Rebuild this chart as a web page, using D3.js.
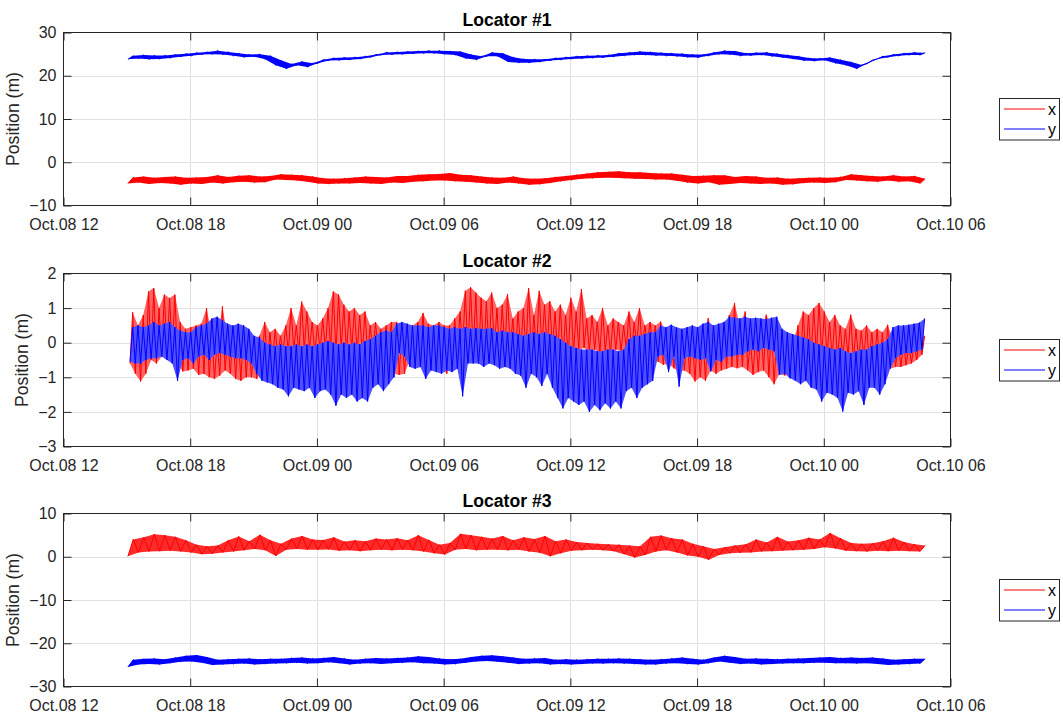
<!DOCTYPE html>
<html><head><meta charset="utf-8">
<script src="https://cdn.jsdelivr.net/npm/d3@7"></script>
<style>
body{margin:0;background:#fff;}
svg{display:block;}
text{font-family:"Liberation Sans",Arial,Helvetica,sans-serif;}
</style>
</head><body>
<svg id="chart" width="1063" height="715"></svg>
<script>
// ---- time axis (hours after Oct.08 12:00) ----
const timeTickHours = [0, 6, 12, 18, 24, 30, 36, 42];
const timeTickLabels = ["Oct.08 12","Oct.08 18","Oct.09 00","Oct.09 06","Oct.09 12","Oct.09 18","Oct.10 00","Oct.10 06"];
const seriesNames = ["x", "y"];
const panelTitles = ["Locator #1", "Locator #2", "Locator #3"];
const loc1YTicks = [-10, 0, 10, 20, 30];
const loc2YTicks = [-3, -2, -1, 0, 1, 2];
const loc3YTicks = [-30, -20, -10, 0, 10];

// sampling of the read-off envelopes (start hour, step in hours)
const loc1Start = 3.05, loc1Step = 0.5;
const loc2Start = 3.15, loc2Step = 0.25;
const loc3Start = 3.05, loc3Step = 0.5;

// ---- Locator #1 (low / high readings per sample) ----
const loc1XLow = [-4.9,-4.7,-5.0,-4.8,-4.9,-5.2,-4.9,-5.0,-4.7,-4.9,
 -4.6,-4.5,-4.7,-4.6,-4.0,-4.1,-4.2,-4.5,-4.9,-5.0,
 -4.9,-4.9,-4.8,-4.9,-5.0,-4.7,-4.8,-4.5,-4.4,-4.2,
 -4.2,-4.4,-4.5,-4.7,-4.9,-5.0,-4.7,-4.9,-5.2,-5.1,
 -4.8,-4.4,-4.1,-3.8,-3.7,-3.6,-3.6,-3.7,-3.8,-3.9,
 -4.0,-4.0,-4.3,-4.7,-4.9,-4.6,-5.2,-5.0,-4.8,-4.9,
 -5.0,-4.9,-5.2,-5.1,-4.8,-4.7,-4.8,-4.6,-4.1,-4.2,
 -4.4,-4.5,-4.2,-4.5,-4.4,-4.9];
const loc1XHigh = [-3.5,-3.3,-3.6,-3.4,-3.3,-3.6,-3.5,-3.4,-3.0,-3.4,
 -3.1,-3.0,-3.3,-3.2,-2.8,-2.9,-3.0,-3.3,-3.7,-3.8,
 -3.7,-3.5,-3.3,-3.4,-3.5,-3.2,-3.2,-2.9,-2.8,-2.7,
 -2.5,-2.9,-3.0,-3.3,-3.5,-3.6,-3.3,-3.7,-3.8,-3.7,
 -3.4,-3.2,-2.9,-2.6,-2.3,-2.2,-2.1,-2.3,-2.3,-2.5,
 -2.6,-2.6,-2.9,-3.2,-3.1,-3.0,-3.0,-3.4,-3.2,-3.3,
 -3.6,-3.5,-3.8,-3.7,-3.6,-3.5,-3.6,-3.4,-2.8,-3.0,
 -3.2,-3.3,-3.0,-3.3,-3.2,-3.8];
const loc1YLow = [23.8,24.0,23.8,23.9,24.1,24.4,24.6,24.9,25.0,24.9,
 24.6,24.3,24.4,23.8,22.4,21.6,22.4,22.0,22.9,23.5,
 23.6,23.7,23.9,24.3,24.8,24.9,25.0,25.1,25.2,25.2,
 25.0,24.8,24.0,23.7,24.5,24.5,23.2,23.0,23.0,23.2,
 23.5,23.7,23.9,24.0,24.1,24.2,24.4,24.6,24.8,24.8,
 24.7,24.6,24.5,24.3,24.2,24.6,25.0,24.9,24.6,24.7,
 24.8,24.5,24.2,23.9,23.5,23.4,23.6,22.9,22.4,21.6,
 22.8,23.9,24.3,24.6,24.8,24.8];
const loc1YHigh = [24.6,24.8,24.7,24.7,24.9,25.1,25.3,25.5,25.8,25.5,
 25.2,24.9,25.0,24.6,23.6,22.7,23.3,22.9,23.7,24.1,
 24.2,24.3,24.5,24.9,25.4,25.5,25.6,25.7,25.8,25.8,
 25.7,25.6,24.9,24.5,25.4,25.2,24.3,23.9,23.8,23.8,
 24.1,24.3,24.5,24.6,24.7,24.8,25.2,25.4,25.6,25.5,
 25.3,25.2,25.1,24.9,24.9,25.4,25.8,25.7,25.2,25.3,
 25.4,25.1,24.8,24.5,24.1,24.0,24.2,23.7,23.2,22.5,
 23.6,24.5,24.9,25.2,25.4,25.3];

// ---- Locator #2 ----
const loc2XLow = [-0.6,-0.9,-1.12,-0.9,-0.5,-0.6,-0.4,-0.3,-0.2,-0.6,
 -0.83,-0.8,-0.75,-0.93,-0.9,-1.0,-1.05,-0.95,-0.8,-0.9,
 -1.05,-1.1,-1.0,-1.0,-1.05,-0.8,-0.6,-0.5,-0.4,-0.3,
 -0.3,-0.2,-0.3,-0.2,-0.2,-0.3,-0.25,-0.2,-0.2,-0.3,
 -0.2,-0.3,-0.2,-0.3,-0.3,-0.35,-0.3,-0.35,-0.3,-0.2,
 -0.9,-0.93,-0.9,-0.5,-0.4,-0.4,-0.45,-0.5,-0.6,-0.7,
 -0.9,-0.5,-0.3,-0.2,-0.3,-0.3,-0.6,-0.4,-0.3,-0.2,
 -0.3,-0.25,-0.2,-0.3,-0.25,-0.3,-0.3,-0.3,-0.2,-0.2,
 -0.2,-0.35,-0.5,-0.45,-0.3,-0.2,-0.15,-0.25,-0.2,-0.3,
 -0.25,-0.3,-0.2,-0.25,-0.2,-0.3,-0.1,-0.2,0.0,-0.1,
 -0.55,-0.64,-0.6,-0.74,-0.83,-0.8,-0.9,-1.12,-1.0,-1.1,
 -0.8,-0.9,-0.8,-0.75,-0.7,-0.74,-0.7,-0.8,-0.93,-0.85,
 -0.8,-1.0,-1.2,-0.9,-0.95,-0.9,-0.74,-0.7,-0.5,-0.4,
 -0.35,-0.4,-0.4,-0.45,-0.5,-0.45,-0.4,-0.5,-0.5,-0.45,
 -0.5,-0.55,-0.65,-0.8,-0.75,-0.7,-0.7,-0.65,-0.6,-0.5,
 -0.35];
const loc2XHigh = [0.88,0.5,0.8,1.48,1.58,1.0,1.39,1.29,1.39,0.6,
 0.4,0.45,0.5,0.55,1.0,0.2,0.05,1.05,0.1,0.3,
 0.2,0.5,0.1,0.0,0.2,0.6,0.3,0.4,0.2,0.5,
 1.0,0.5,1.19,0.9,0.6,0.5,0.7,1.0,1.48,1.39,
 1.1,0.9,1.0,0.8,0.9,0.5,0.6,0.4,0.5,0.6,
 0.6,0.4,0.5,0.5,0.6,0.86,0.55,0.5,0.6,0.5,
 0.5,0.7,0.9,1.5,1.6,1.45,1.3,1.2,1.45,1.0,
 1.1,1.4,0.7,0.9,1.0,1.58,0.8,1.5,1.1,1.2,
 0.9,1.1,0.8,1.3,0.9,1.55,0.7,0.8,0.6,1.0,
 0.5,0.7,0.6,0.5,0.9,0.6,1.0,0.5,0.6,0.5,
 0.61,0.3,0.4,0.2,0.25,0.2,0.3,0.3,0.2,0.71,
 0.3,0.2,0.3,0.8,1.15,0.5,0.9,0.1,0.2,0.4,
 0.81,0.5,0.3,0.0,0.1,0.0,0.5,0.9,0.8,1.0,
 1.15,0.9,0.6,0.8,0.5,0.4,0.81,0.4,0.35,0.5,
 0.3,0.4,0.3,0.52,0.1,0.0,0.0,-0.05,0.0,0.1,
 0.2];
const loc2YLow = [-0.55,-0.6,-0.6,-0.5,-0.45,-0.45,-0.4,-0.5,-0.6,-1.1,
 -0.5,-0.45,-0.6,-0.4,-0.35,-0.5,-0.35,-0.3,-0.35,-0.4,
 -0.45,-0.45,-0.5,-0.6,-0.9,-1.1,-1.15,-1.2,-1.3,-1.35,
 -1.55,-1.3,-1.35,-1.4,-1.3,-1.6,-1.4,-1.35,-1.5,-1.82,
 -1.5,-1.6,-1.5,-1.7,-1.6,-1.7,-1.3,-1.2,-1.4,-1.2,
 -1.0,-0.3,-0.4,-0.7,-0.75,-0.7,-1.05,-0.8,-0.85,-0.9,
 -0.8,-0.85,-0.75,-1.55,-0.6,-0.6,-0.6,-0.7,-0.6,-0.65,
 -0.75,-0.7,-0.75,-0.9,-0.95,-1.3,-0.9,-1.0,-1.25,-0.9,
 -1.3,-1.6,-1.9,-1.6,-1.7,-1.8,-1.7,-2.0,-1.8,-1.95,
 -1.75,-1.9,-1.7,-1.9,-1.4,-1.3,-1.6,-1.3,-1.2,-1.1,
 -0.4,-0.35,-0.85,-0.4,-1.27,-0.45,-0.4,-0.45,-0.5,-0.45,
 -0.83,-0.5,-0.55,-0.4,-0.4,-0.35,-0.35,-0.25,-0.2,-0.25,
 -0.15,-0.2,-0.25,-0.93,-0.9,-1.03,-1.1,-1.2,-1.1,-1.3,
 -1.35,-1.7,-1.45,-1.5,-1.6,-1.99,-1.45,-1.5,-1.4,-1.8,
 -1.3,-1.3,-1.5,-1.2,-0.74,-0.45,-0.35,-0.3,-0.3,-0.25,
 -0.2];
const loc2YHigh = [0.45,0.5,0.45,0.5,0.6,0.5,0.55,0.6,0.45,0.35,
 0.3,0.3,0.45,0.5,0.55,0.7,0.75,0.65,0.55,0.5,
 0.55,0.5,0.4,0.2,0.15,0.0,-0.05,-0.1,-0.05,-0.1,
 -0.1,-0.05,-0.1,-0.05,-0.1,-0.05,0.0,0.05,0.0,-0.05,
 0.0,-0.05,0.0,-0.05,0.05,0.1,0.2,0.3,0.35,0.3,
 0.55,0.6,0.55,0.5,0.5,0.5,0.45,0.5,0.5,0.45,
 0.4,0.45,0.4,0.45,0.4,0.42,0.4,0.4,0.42,0.3,
 0.35,0.3,0.3,0.25,0.2,0.25,0.3,0.25,0.3,0.25,
 0.2,0.1,0.0,-0.1,-0.15,-0.2,-0.2,-0.2,-0.25,-0.25,
 -0.2,-0.2,-0.25,-0.2,0.1,0.2,0.2,0.25,0.3,0.3,
 0.5,0.45,0.52,0.45,0.4,0.45,0.5,0.45,0.55,0.6,
 0.5,0.55,0.6,0.75,0.72,0.7,0.75,0.7,0.72,0.7,
 0.68,0.72,0.75,0.4,0.3,0.25,0.2,0.15,0.1,0.0,
 -0.05,-0.1,-0.15,-0.2,-0.15,-0.25,-0.3,-0.25,-0.2,-0.2,
 -0.1,-0.05,0.0,0.1,0.45,0.5,0.5,0.52,0.55,0.58,
 0.7];

// ---- Locator #3 ----
const loc3XLow = [0.1,1.0,1.2,1.3,1.4,1.2,1.0,0.6,0.7,1.0,
 1.2,1.5,1.8,1.5,0.2,1.6,1.8,1.6,1.6,1.7,
 1.4,1.5,1.3,1.5,1.6,1.5,1.6,1.5,1.2,0.8,
 0.5,1.6,1.8,1.5,1.6,1.6,1.5,1.6,1.2,0.9,
 0.1,0.8,1.4,1.5,1.6,1.5,1.3,0.6,-0.2,0.4,
 1.2,1.5,1.0,0.3,0.0,-0.7,0.4,0.8,0.9,1.0,
 1.2,1.3,1.4,1.5,1.6,1.8,2.2,1.9,1.4,1.3,
 1.2,1.4,1.3,1.4,1.3,1.2];
const loc3XHigh = [4.0,4.5,5.2,5.0,4.6,3.8,2.8,2.4,2.6,3.8,
 4.7,3.6,5.1,3.8,3.0,4.2,4.8,4.0,3.9,4.5,
 3.5,3.8,3.6,4.2,4.0,4.3,3.8,5.0,3.9,2.8,
 3.2,5.3,5.0,4.6,4.2,4.8,3.8,4.5,4.1,4.8,
 3.6,4.0,3.4,3.2,3.0,2.9,2.8,2.6,2.4,4.6,
 4.9,4.3,4.0,3.0,2.4,1.8,2.2,2.6,2.9,4.0,
 3.3,4.6,3.5,3.8,4.4,4.0,5.5,4.3,3.2,3.0,
 3.1,3.6,4.4,3.4,2.9,2.6];
const loc3YLow = [-25.5,-24.9,-24.8,-24.9,-24.6,-24.3,-24.2,-24.5,-25.0,-24.9,
 -24.8,-24.7,-24.9,-24.8,-24.7,-24.6,-24.5,-24.7,-24.6,-24.4,
 -24.6,-24.9,-24.7,-24.6,-24.8,-24.6,-24.5,-24.4,-24.6,-24.7,
 -24.9,-24.8,-24.5,-24.2,-24.1,-24.3,-24.5,-24.8,-24.7,-24.6,
 -24.9,-24.8,-24.9,-24.8,-24.7,-24.7,-24.6,-24.7,-24.8,-24.9,
 -24.9,-24.7,-24.6,-24.8,-24.9,-24.6,-24.2,-24.5,-24.8,-24.7,
 -24.9,-24.8,-24.7,-24.6,-24.6,-24.5,-24.5,-24.6,-24.6,-24.7,
 -24.6,-24.8,-25.0,-24.9,-24.8,-24.7];
const loc3YHigh = [-23.8,-23.6,-23.5,-23.7,-23.3,-22.9,-22.7,-23.2,-23.8,-23.7,
 -23.6,-23.5,-23.7,-23.6,-23.6,-23.4,-23.3,-23.5,-23.4,-23.2,
 -23.5,-23.8,-23.6,-23.4,-23.5,-23.4,-23.3,-23.0,-23.2,-23.5,
 -23.7,-23.6,-23.2,-22.9,-22.8,-23.0,-23.3,-23.6,-23.5,-23.4,
 -23.8,-23.7,-23.8,-23.7,-23.6,-23.6,-23.5,-23.6,-23.7,-23.8,
 -23.7,-23.5,-23.3,-23.6,-23.8,-23.3,-22.9,-23.2,-23.6,-23.5,
 -23.6,-23.7,-23.6,-23.5,-23.4,-23.3,-23.2,-23.4,-23.3,-23.4,
 -23.3,-23.5,-23.8,-23.7,-23.6,-23.6];

// ---- layout ----
const svg = d3.select("#chart");
const X0 = 63.5, X1 = 950.5;
const x = d3.scaleLinear().domain([0, 42]).range([X0, X1]);
const colors = ["#ff0000", "#0000ff"];
const axisColor = "#262626";
const panels = [
  {title: panelTitles[0], top: 32.5, bottom: 205.5, domain: [-10, 30], ticks: loc1YTicks, start: loc1Start, step: loc1Step,
   fills: ["#ff0000", "#0000ff"], series: [[loc1XLow, loc1XHigh], [loc1YLow, loc1YHigh]]},
  {title: panelTitles[1], top: 273.5, bottom: 446.5, domain: [-3, 2], ticks: loc2YTicks, start: loc2Start, step: loc2Step,
   fills: ["#ff6464", "#5050ff"], series: [[loc2XLow, loc2XHigh], [loc2YLow, loc2YHigh]]},
  {title: panelTitles[2], top: 513.5, bottom: 686.5, domain: [-30, 10], ticks: loc3YTicks, start: loc3Start, step: loc3Step,
   fills: ["#ff2a2a", "#0000ff"], series: [[loc3XLow, loc3XHigh], [loc3YLow, loc3YHigh]]}
];
const defs = svg.append("defs");

panels.forEach((p, pi) => {
  const y = d3.scaleLinear().domain(p.domain).range([p.bottom, p.top]);
  const g = svg.append("g");
  const cid = "clip" + pi;
  defs.append("clipPath").attr("id", cid).append("rect")
    .attr("x", X0).attr("y", p.top).attr("width", X1 - X0).attr("height", p.bottom - p.top);

  g.append("rect").attr("x", X0).attr("y", p.top).attr("width", X1 - X0).attr("height", p.bottom - p.top).attr("fill", "#fff");

  // grid
  g.append("g").selectAll("line").data(timeTickHours.slice(1, -1)).enter().append("line")
    .attr("x1", d => Math.round(x(d)) + 0.5).attr("x2", d => Math.round(x(d)) + 0.5)
    .attr("y1", p.top).attr("y2", p.bottom).attr("stroke", "#e1e1e1").attr("stroke-width", 1);
  g.append("g").selectAll("line").data(p.ticks.slice(1, -1)).enter().append("line")
    .attr("y1", d => Math.round(y(d)) + 0.5).attr("y2", d => Math.round(y(d)) + 0.5)
    .attr("x1", X0).attr("x2", X1).attr("stroke", "#e1e1e1").attr("stroke-width", 1);

  // series: envelope + zigzag trace through the readings
  const line = d3.line().x(d => x(d[0])).y(d => y(d[1]));
  p.series.forEach((pair, si) => {
    const [lo, hi] = pair;
    const pts = [], hiPts = [], loPts = [];
    lo.forEach((v, i) => {
      const t = p.start + i * p.step;
      pts.push([t, v]);
      pts.push([t + p.step / 2, hi[i]]);
      loPts.push([t, v]);
      hiPts.push([t + p.step / 2, hi[i]]);
    });
    const poly = hiPts.concat(loPts.slice().reverse());
    g.append("path").attr("clip-path", `url(#${cid})`).attr("d", line(poly) + "Z")
      .attr("fill", p.fills[si]).attr("stroke", "none");
    g.append("path").attr("clip-path", `url(#${cid})`).attr("d", line(pts))
      .attr("fill", "none").attr("stroke", colors[si]).attr("stroke-width", 1).attr("stroke-linejoin", "round");
  });

  // axes
  const xb = d3.axisBottom(x).tickValues(timeTickHours).tickFormat((d, i) => timeTickLabels[i]).tickSizeInner(-8).tickSizeOuter(0).tickPadding(13);
  const xt = d3.axisTop(x).tickValues(timeTickHours).tickFormat("").tickSizeInner(-8).tickSizeOuter(0);
  const yl = d3.axisLeft(y).tickValues(p.ticks).tickFormat(d3.format("d")).tickSizeInner(-8).tickSizeOuter(0).tickPadding(7);
  const yr = d3.axisRight(y).tickValues(p.ticks).tickFormat("").tickSizeInner(-8).tickSizeOuter(0);
  const ax = [
    g.append("g").attr("transform", `translate(0,${p.bottom})`).call(xb),
    g.append("g").attr("transform", `translate(0,${p.top})`).call(xt),
    g.append("g").attr("transform", `translate(${X0},0)`).call(yl),
    g.append("g").attr("transform", `translate(${X1},0)`).call(yr)
  ];
  ax.forEach(a => {
    a.select(".domain").remove();
    a.selectAll(".tick line").attr("stroke", axisColor);
    a.selectAll(".tick text").attr("fill", axisColor).style("font-size", "16px")
      .style("font-family", "'Liberation Sans', Arial, sans-serif");
  });
  g.append("rect").attr("x", X0).attr("y", p.top).attr("width", X1 - X0).attr("height", p.bottom - p.top)
    .attr("fill", "none").attr("stroke", axisColor).attr("stroke-width", 1);

  // title
  g.append("text").attr("x", (X0 + X1) / 2).attr("y", p.top - 7).attr("text-anchor", "middle")
    .style("font-size", "17.6px").style("font-weight", "bold").attr("fill", "#000").text(p.title);

  // y label
  let minLeft = X0;
  ax[2].selectAll(".tick text").each(function () { const b = this.getBBox(); minLeft = Math.min(minLeft, X0 + b.x); });
  const cy = (p.top + p.bottom) / 2;
  g.append("text").attr("transform", `translate(${minLeft - 10.5},${cy}) rotate(-90)`)
    .attr("text-anchor", "middle").style("font-size", "17.6px").attr("fill", axisColor).text("Position (m)");

  // legend
  const lx = 999.5, lw = 60, lh = 41.5;
  const ly = Math.round(cy - lh / 2) + 0.5;
  const lg = g.append("g");
  lg.append("rect").attr("x", lx).attr("y", ly).attr("width", lw).attr("height", lh)
    .attr("fill", "#fff").attr("stroke", axisColor).attr("stroke-width", 1);
  seriesNames.forEach((nm, si) => {
    const ry = ly + 10.5 + si * 20;
    lg.append("line").attr("x1", lx + 4.5).attr("x2", lx + 45.5).attr("y1", ry).attr("y2", ry)
      .attr("stroke", colors[si]).attr("stroke-width", 1);
    lg.append("text").attr("x", lx + 48.5).attr("y", ry + 6).style("font-size", "16px").attr("fill", "#000").text(nm);
  });
});
</script>
</body></html>
